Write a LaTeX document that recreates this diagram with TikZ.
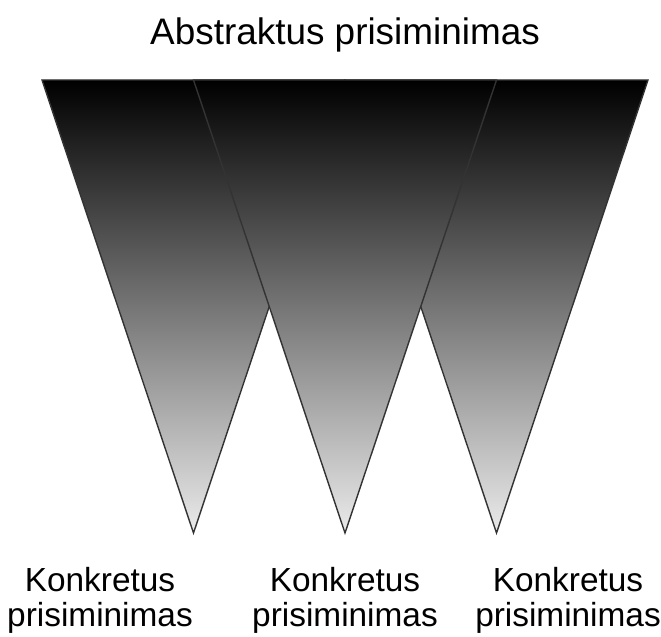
\documentclass[tikz,border=0pt]{standalone}
\usepackage{fontspec}
\setmainfont{Liberation Sans}
\begin{document}
\begin{tikzpicture}[
    trikampis/.style={top color=black, bottom color=black!8, draw=black!80, line width=0.8pt},
    antraste/.style={font=\fontsize{21}{25}\selectfont, inner sep=0pt},
    parasas/.style={font=\fontsize{19}{19.5}\selectfont, align=center, inner sep=0pt}
]
    \useasboundingbox (0,0) rectangle (13.22,12.72);

    % 1. Trikampiai (vidurinis piešiamas paskutinis)
    \foreach \i in {0,2,1} {
        \shadedraw[trikampis] ({0.84+3.03*\i},11.12) -- ({6.90+3.03*\i},11.12)
            -- ({3.87+3.03*\i},2.06) -- cycle;
    }

    % 2. Antraštė
    \node[antraste, anchor=base] (abstr) at (6.9,11.82) {Abstraktus prisiminimas};

    % 3. Užrašai apačioje
    \node[parasas, anchor=base] (konkr1) at (2.0,0.2) {Konkretus\\prisiminimas};
    \node[parasas, anchor=base] (konkr2) at (6.9,0.2) {Konkretus\\prisiminimas};
    \node[parasas, anchor=base] (konkr3) at (11.36,0.2) {Konkretus\\prisiminimas};
\end{tikzpicture}
\end{document}
